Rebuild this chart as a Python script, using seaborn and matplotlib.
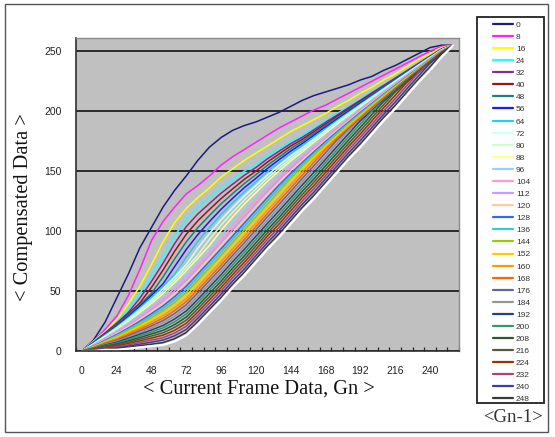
import matplotlib
matplotlib.use("Agg")
import matplotlib.pyplot as plt
import pandas as pd
import seaborn as sns
from matplotlib.lines import Line2D
from matplotlib.patches import Rectangle

# ---------------- data ----------------
gn_current = [0, 8, 16, 24, 32, 40, 48, 56, 64, 72, 80, 88, 96, 104, 112, 120, 128,
              136, 144, 152, 160, 168, 176, 184, 192, 200, 208, 216, 224, 232, 240, 248, 256]
x_tick_labels = [0, 24, 48, 72, 96, 120, 144, 168, 192, 216, 240]
y_tick_labels = [0, 50, 100, 150, 200, 250]
prev_levels = ['0', '8', '16', '24', '32', '40', '48', '56', '64', '72', '80', '88', '96',
               '104', '112', '120', '128', '136', '144', '152', '160', '168', '176', '184',
               '192', '200', '208', '216', '224', '232', '240', '248', '256']

od_0 = [0, 9, 24, 44, 64, 86, 103, 120, 134, 146, 159, 170, 178, 184, 188, 191, 195, 199, 204, 209, 213, 216, 219, 222, 226, 229, 234, 238, 243, 248, 253, 255, 255]
od_8 = [0, 8, 18, 29, 46, 68, 92, 108, 120, 131, 138, 146, 155, 162, 168, 174, 180, 186, 191, 196, 201, 205, 210, 215, 220, 225, 230, 235, 240, 245, 250, 254, 255]
od_16 = [0, 8, 16, 26, 39, 54, 72, 91, 107, 119, 128, 136, 145, 152, 159, 165, 171, 177, 183, 188, 193, 198, 204, 209, 215, 220, 226, 231, 237, 243, 248, 253, 255]
od_24 = [0, 8, 15, 24, 35, 48, 63, 79, 96, 110, 120, 128, 136, 143, 150, 156, 163, 169, 175, 180, 186, 192, 198, 204, 210, 216, 222, 228, 234, 240, 246, 252, 255]
od_32 = [0, 7.2, 15, 23.2, 32, 44, 58, 73.2, 89.6, 103.7, 114.3, 123, 131.6, 139.1, 146.5, 153, 160.3, 166.6, 172.9, 178.2, 184.5, 190.7, 196.8, 203, 209.1, 215.3, 221.4, 227.5, 233.6, 239.7, 245.8, 251.9, 255]
od_40 = [0, 7.0, 14.5, 22.4, 30.9, 40, 53, 67.5, 83.2, 97.3, 108.6, 118, 127.1, 135.2, 143.1, 150, 157.6, 164.3, 170.9, 176.5, 182.9, 189.3, 195.7, 202, 208.3, 214.5, 220.8, 227, 233.2, 239.4, 245.6, 251.7, 255]
od_48 = [0, 6.7, 14, 21.6, 29.9, 38.6, 48, 61.8, 76.8, 91, 102.9, 113, 122.7, 131.3, 139.6, 147, 154.9, 161.9, 168.8, 174.8, 181.4, 188, 194.5, 201, 207.4, 213.8, 220.2, 226.5, 232.8, 239.1, 245.3, 251.6, 255]
od_56 = [0, 6.5, 13.5, 20.8, 28.8, 37.3, 46.3, 56, 70.4, 84.7, 97.1, 108, 118.2, 127.4, 136.2, 144, 152.2, 159.6, 166.7, 173, 179.9, 186.7, 193.4, 200, 206.6, 213.1, 219.6, 226, 232.4, 238.8, 245.1, 251.4, 255]
od_64 = [0, 6.2, 13, 20, 27.7, 35.9, 44.6, 54, 64, 78.3, 91.4, 103, 113.8, 123.5, 132.7, 141, 149.5, 157.2, 164.7, 171.2, 178.4, 185.3, 192.2, 199, 205.7, 212.4, 219, 225.5, 232, 238.5, 244.9, 251.3, 255]
od_72 = [0, 5.9, 12.5, 19.2, 26.6, 34.5, 42.9, 51.9, 61.7, 72, 85.7, 98, 109.3, 119.6, 129.3, 138, 146.8, 154.9, 162.6, 169.5, 176.8, 184, 191.1, 198, 204.9, 211.6, 218.3, 225, 231.6, 238.2, 244.7, 251.1, 255]
od_80 = [0, 5.7, 12, 18.4, 25.6, 33.1, 41.2, 49.9, 59.3, 69.4, 80, 93, 104.9, 115.7, 125.8, 135, 144.2, 152.5, 160.5, 167.8, 175.3, 182.7, 189.9, 197, 204, 210.9, 217.7, 224.5, 231.2, 237.8, 244.4, 251, 255]
od_88 = [0, 5.4, 11.5, 17.7, 24.5, 31.8, 39.5, 47.8, 57, 66.9, 77.4, 88, 100.4, 111.8, 122.4, 132, 141.5, 150.1, 158.5, 166, 173.8, 181.3, 188.7, 196, 203.1, 210.2, 217.1, 224, 230.8, 237.5, 244.2, 250.9, 255]
od_96 = [0, 5.2, 11, 16.9, 23.4, 30.4, 37.8, 45.8, 54.7, 64.3, 74.7, 85.3, 96, 107.9, 118.9, 129, 138.8, 147.8, 156.4, 164.2, 172.2, 180, 187.6, 195, 202.3, 209.5, 216.5, 223.5, 230.4, 237.2, 244, 250.7, 255]
od_104 = [0, 4.9, 10.5, 16.1, 22.4, 29, 36.2, 43.8, 52.3, 61.7, 72.1, 82.7, 93.3, 104, 115.5, 126, 136.1, 145.4, 154.3, 162.5, 170.7, 178.7, 186.4, 194, 201.4, 208.7, 215.9, 223, 230, 236.9, 243.8, 250.6, 255]
od_112 = [0, 4.6, 10, 15.3, 21.3, 27.7, 34.5, 41.7, 50, 59.2, 69.5, 80, 90.6, 101.3, 112, 123, 133.4, 143.1, 152.3, 160.8, 169.2, 177.3, 185.3, 193, 200.6, 208, 215.3, 222.5, 229.6, 236.6, 243.6, 250.4, 255]
od_120 = [0, 4.4, 9.5, 14.5, 20.2, 26.3, 32.8, 39.7, 47.7, 56.6, 66.8, 77.3, 87.9, 98.6, 109.3, 120, 130.7, 140.7, 150.2, 159, 167.6, 176, 184.1, 192, 199.7, 207.3, 214.7, 222, 229.2, 236.3, 243.3, 250.3, 255]
od_128 = [0, 4.1, 9, 13.7, 19.1, 24.9, 31.1, 37.6, 45.3, 54, 64.2, 74.7, 85.2, 95.9, 106.6, 117.3, 128, 138.4, 148.1, 157.2, 166.1, 174.7, 182.9, 191, 198.9, 206.5, 214.1, 221.5, 228.8, 236, 243.1, 250.1, 255]
od_136 = [0, 3.9, 8.5, 12.9, 18.1, 23.6, 29.4, 35.6, 43, 51.4, 61.5, 72, 82.5, 93.3, 103.8, 114.6, 125.3, 136, 146.1, 155.5, 164.6, 173.3, 181.8, 190, 198, 205.8, 213.5, 221, 228.4, 235.7, 242.9, 250, 255]
od_144 = [0, 3.6, 8, 12.1, 17, 22.2, 27.7, 33.6, 40.7, 48.9, 58.9, 69.3, 79.8, 90.6, 101.1, 111.9, 122.6, 133.3, 144, 153.8, 163.1, 172, 180.6, 189, 197.1, 205.1, 212.9, 220.5, 228, 235.4, 242.7, 249.9, 255]
od_152 = [0, 3.4, 7.5, 11.3, 15.9, 20.8, 26, 31.5, 38.3, 46.3, 56.3, 66.7, 77.1, 87.9, 98.4, 109.2, 119.9, 130.5, 141.3, 152, 161.5, 170.7, 179.5, 188, 196.3, 204.4, 212.3, 220, 227.6, 235.1, 242.4, 249.7, 255]
od_160 = [0, 3.1, 7, 10.5, 14.9, 19.4, 24.3, 29.5, 36, 43.7, 53.6, 64, 74.4, 85.2, 95.7, 106.5, 117.3, 127.8, 138.6, 149.3, 160, 169.3, 178.3, 187, 195.4, 203.6, 211.7, 219.5, 227.2, 234.8, 242.2, 249.6, 255]
od_168 = [0, 2.8, 6.5, 9.7, 13.8, 18.1, 22.6, 27.4, 33.7, 41.2, 51, 61.3, 71.7, 82.5, 92.9, 103.8, 114.6, 125.1, 135.9, 146.6, 157.3, 168, 177.2, 186, 194.6, 202.9, 211, 219, 226.8, 234.5, 242, 249.4, 255]
od_176 = [0, 2.6, 6, 8.9, 12.7, 16.7, 20.9, 25.4, 31.3, 38.6, 48.4, 58.7, 69, 79.8, 90.2, 101.1, 111.9, 122.3, 133.1, 143.9, 154.5, 165.3, 176, 185, 193.7, 202.2, 210.4, 218.5, 226.4, 234.2, 241.8, 249.3, 255]
od_184 = [0, 2.3, 5.5, 8.1, 11.6, 15.3, 19.2, 23.4, 29, 36, 45.7, 56, 66.3, 77.2, 87.5, 98.4, 109.2, 119.6, 130.4, 141.2, 151.8, 162.5, 173.3, 184, 192.9, 201.5, 209.8, 218, 226, 233.8, 241.6, 249.1, 255]
od_192 = [0, 2.1, 5, 7.3, 10.6, 14, 17.5, 21.3, 26.7, 33.4, 43.1, 53.3, 63.6, 74.5, 84.8, 95.6, 106.5, 116.9, 127.7, 138.5, 149, 159.8, 170.6, 181.3, 192, 200.7, 209.2, 217.5, 225.6, 233.5, 241.3, 249, 255]
od_200 = [0, 1.8, 4.5, 6.5, 9.5, 12.6, 15.8, 19.3, 24.3, 30.9, 40.5, 50.7, 60.9, 71.8, 82.1, 92.9, 103.8, 114.1, 125, 135.8, 146.3, 157.1, 167.9, 178.7, 189.3, 200, 208.6, 217, 225.2, 233.2, 241.1, 248.9, 255]
od_208 = [0, 1.5, 4, 5.8, 8.4, 11.2, 14.2, 17.2, 22, 28.3, 37.8, 48, 58.2, 69.1, 79.3, 90.2, 101.1, 111.4, 122.3, 133.2, 143.5, 154.4, 165.2, 176, 186.5, 197.3, 208, 216.5, 224.8, 232.9, 240.9, 248.7, 255]
od_216 = [0, 1.3, 3.5, 5, 7.4, 9.9, 12.5, 15.2, 19.7, 25.7, 35.2, 45.3, 55.5, 66.4, 76.6, 87.5, 98.4, 108.7, 119.6, 130.5, 140.8, 151.6, 162.5, 173.3, 183.8, 194.6, 205.3, 216, 224.4, 232.6, 240.7, 248.6, 255]
od_224 = [0, 1, 3, 4.2, 6.3, 8.5, 10.8, 13.2, 17.3, 23.1, 32.5, 42.7, 52.8, 63.7, 73.9, 84.8, 95.8, 105.9, 116.9, 127.8, 138, 148.9, 159.8, 170.7, 181, 191.9, 202.7, 213.2, 224, 232.3, 240.4, 248.4, 255]
od_232 = [0, 0.8, 2.5, 3.4, 5.2, 7.1, 9.1, 11.1, 15, 20.6, 29.9, 40, 50.1, 61.1, 71.2, 82.1, 93.1, 103.2, 114.1, 125.1, 135.3, 146.2, 157.1, 168, 178.3, 189.1, 200, 210.4, 221.3, 232, 240.2, 248.3, 255]
od_240 = [0, 0.5, 2, 2.6, 4.1, 5.7, 7.4, 9.1, 12.7, 18, 27.3, 37.3, 47.4, 58.4, 68.4, 79.4, 90.4, 100.5, 111.4, 122.4, 132.5, 143.5, 154.4, 165.3, 175.5, 186.4, 197.3, 207.6, 218.5, 229.3, 240, 248.1, 255]
od_248 = [0, 0.3, 1.5, 1.8, 3.1, 4.4, 5.7, 7, 10.3, 15.4, 24.6, 34.7, 44.7, 55.7, 65.7, 76.7, 87.7, 97.7, 108.7, 119.7, 129.8, 140.7, 151.7, 162.7, 172.8, 183.7, 194.7, 204.8, 215.8, 226.7, 237, 248, 255]
od_256 = [0, 0, 1, 1, 2, 3, 4, 5, 8, 13, 22, 32, 42, 53, 63, 74, 85, 95, 106, 117, 127, 138, 149, 160, 170, 181, 192, 202, 213, 224, 234, 245, 255]

series_values = [od_0, od_8, od_16, od_24, od_32, od_40, od_48, od_56, od_64, od_72, od_80,
                 od_88, od_96, od_104, od_112, od_120, od_128, od_136, od_144, od_152, od_160,
                 od_168, od_176, od_184, od_192, od_200, od_208, od_216, od_224, od_232, od_240,
                 od_248, od_256]

colors = ['#1c1c82', '#ff22ff', '#ffff00', '#22ffff', '#8c2a8c', '#8c1a1a', '#1a8080', '#1a1aff',
          '#22ccff', '#ccffff', '#ccffcc', '#ffff99', '#99ccff', '#ff99cc', '#cc99ff', '#ffcc99',
          '#3366ff', '#33cccc', '#99cc00', '#ffcc00', '#ff9900', '#ff6600', '#666699', '#969696',
          '#1f4475', '#339966', '#2e5530', '#5a5a38', '#993300', '#a84478', '#3d3d9e', '#3a3a3a',
          '#ffffff']

# ---------------- build long table ----------------
rows = []
for lvl, vals in zip(prev_levels, series_values):
    for x, v in zip(gn_current, vals):
        rows.append((x, v, lvl))
df = pd.DataFrame(rows, columns=['Gn', 'Compensated', 'Gn-1'])

sns.set_theme(style="white")
plt.rcParams['font.family'] = ['Liberation Sans', 'DejaVu Sans']

W, H = 555, 437
fig = plt.figure(figsize=(W / 100, H / 100), dpi=100)
fig.patch.set_facecolor('white')

# outer chart border
fig.patches.append(Rectangle((5 / W, 1 - 432 / H), 543 / W, 428 / H, transform=fig.transFigure,
                             fill=False, edgecolor='#555555', linewidth=1.0, zorder=0))

ax = fig.add_axes([76 / W, 1 - 351 / H, 383 / W, 313 / H])
ax.set_facecolor('#c0c0c0')

palette = dict(zip(prev_levels, colors))
sns.lineplot(data=df, x='Gn', y='Compensated', hue='Gn-1', hue_order=prev_levels,
             palette=palette, linewidth=1.1, sort=False, estimator=None, legend=False, ax=ax)
# white outermost series drawn a bit thicker
for ln in ax.get_lines()[-1:]:
    ln.set_linewidth(1.6)

ax.set_xlim(-4, 260)
ax.set_ylim(0, 261)
ax.set_xticks(x_tick_labels)
ax.set_xticklabels([str(v) for v in x_tick_labels])
ax.set_xticks([b - 4 for b in gn_current] + [260], minor=True)
ax.set_yticks(y_tick_labels)
ax.set_yticklabels([str(v) for v in y_tick_labels])
ax.tick_params(axis='x', which='major', length=0, pad=10.5, labelsize=7.5, colors='#222222')
ax.tick_params(axis='x', which='minor', direction='in', length=3, width=0.9, color='#222222', bottom=True)
ax.tick_params(axis='y', which='major', length=0, pad=10.5, labelsize=7.5, colors='#222222')

ax.yaxis.grid(True, color='#111111', linewidth=1.2)
ax.xaxis.grid(False)
ax.set_axisbelow(True)

for side in ['left', 'bottom']:
    ax.spines[side].set_color('#303030')
    ax.spines[side].set_linewidth(1.2)
for side in ['top', 'right']:
    ax.spines[side].set_color('#8a8a8a')
    ax.spines[side].set_linewidth(1.0)

ax.set_xlabel('')
ax.set_ylabel('')
serif = ['Liberation Serif', 'DejaVu Serif']
fig.text(258.5 / W, 1 - 389 / H, '< Current Frame Data, Gn >', ha='center', va='center',
         family=serif, fontsize=14.7, color='#111111')
fig.text(24 / W, 1 - 207.5 / H, '< Compensated Data >', ha='center', va='center', rotation=90,
         family=serif, fontsize=14.7, color='#111111')

# legend box
fig.patches.append(Rectangle((477 / W, 1 - 403 / H), 67 / W, 386 / H, transform=fig.transFigure,
                             facecolor='white', edgecolor='#222222', linewidth=1.3, zorder=1))
handles = [Line2D([0], [0], color=c, lw=1.6) for c in colors[:-1]]
leg = fig.legend(handles, prev_levels[:-1], loc='upper left',
                 bbox_to_anchor=(493 / W, 1 - 21 / H), frameon=False, fontsize=6,
                 handlelength=2.4, handletextpad=0.35, labelspacing=0.51, borderpad=0,
                 borderaxespad=0)
for t in leg.get_texts():
    t.set_color('#333333')
leg.set_zorder(3)

fig.text(513.5 / W, 1 - 418 / H, '<Gn-1>', ha='center', va='center', family=serif,
         fontsize=13.5, color='#333333')

fig.savefig('out.png', dpi=100)
